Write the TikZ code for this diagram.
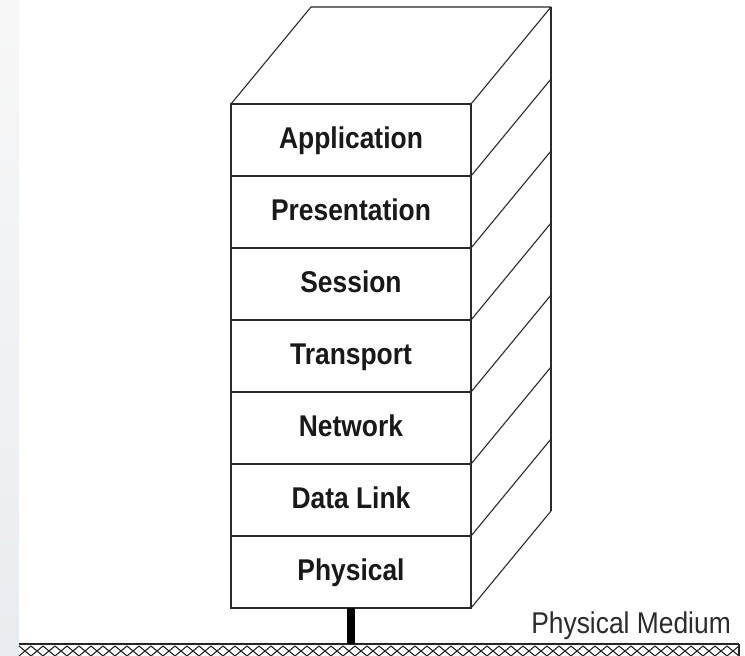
\documentclass[tikz,border=0pt]{standalone}
\usepackage{fontspec}
\setmainfont{Liberation Sans}
\usetikzlibrary{positioning,calc}
\definecolor{edgegray}{HTML}{2A2A2A}
\definecolor{labelgray}{HTML}{2B2B2B}
\definecolor{stripgray}{HTML}{E9ECF0}
\newcommand{\narrowtext}[1]{\scalebox{0.88}[1]{#1}}
\tikzset{
  layer/.style={rectangle,draw=edgegray,line width=1.4pt,fill=white,minimum width=240pt,
    minimum height=72pt,inner sep=0pt,outer sep=0pt,text height=22pt,text depth=6pt,
    text=black!90,font=\fontsize{30}{32}\selectfont\bfseries},
  side/.style={draw=edgegray,line width=1.1pt,line join=round},
  medium/.style={rectangle,minimum width=720pt,minimum height=12pt,inner sep=0pt,outer sep=0pt},
  hatch/.style={draw=black!85,line width=1.1pt},
  pole/.style={draw=black,line width=8pt},
  mediumlabel/.style={inner sep=0pt,text=labelgray,font=\fontsize{30}{32}\selectfont},
}

\begin{document}
\begin{tikzpicture}[x=1pt,y=-1pt]
  \useasboundingbox (0,0) rectangle (745,656);
  \shade[top color=white!97!black,bottom color=stripgray] (0,0) rectangle (19,656);

  % the seven layers, top to bottom
  \node[layer] (app) at (351,140) {\narrowtext{Application}};
  \node[layer,below=0pt of app] (pres) {\narrowtext{Presentation}};
  \node[layer,below=0pt of pres] (sess) {\narrowtext{Session}};
  \node[layer,below=0pt of sess] (trans) {\narrowtext{Transport}};
  \node[layer,below=0pt of trans] (net) {\narrowtext{Network}};
  \node[layer,below=0pt of net] (link) {\narrowtext{Data Link}};
  \node[layer,below=0pt of link] (phys) {\narrowtext{Physical}};

  % top and right faces of the stack
  \draw[side] (app.north west) -- ++(80,-97) -- ++(240,0) -- (app.north east);
  \draw[side] (app.north east) ++(80,-97) -- ($(phys.south east)+(80,-97)$);
  \foreach \l in {app,pres,sess,trans,net,link,phys}
    \draw[side] (\l.south east) -- ++(80,-97);

  % cable down to the medium
  \node[medium] (wire) at (379,650) {};
  \draw[hatch,line width=1.8pt] (wire.north west) -- (wire.north east);
  \draw[hatch] (wire.north east) -- (wire.south east);
  \foreach \x in {0,12,...,708} {
    \draw[hatch] ($(wire.south west)+(\x,0)$) -- ++(12,-10);
    \draw[hatch] ($(wire.south west)+(\x,-10)$) -- ++(12,10);
  }
  \draw[pole] (phys.south) -- (phys.south |- wire.north);
  \node[mediumlabel,anchor=base east] (medlabel) at (731,633) {\narrowtext{Physical Medium}};
\end{tikzpicture}
\end{document}
